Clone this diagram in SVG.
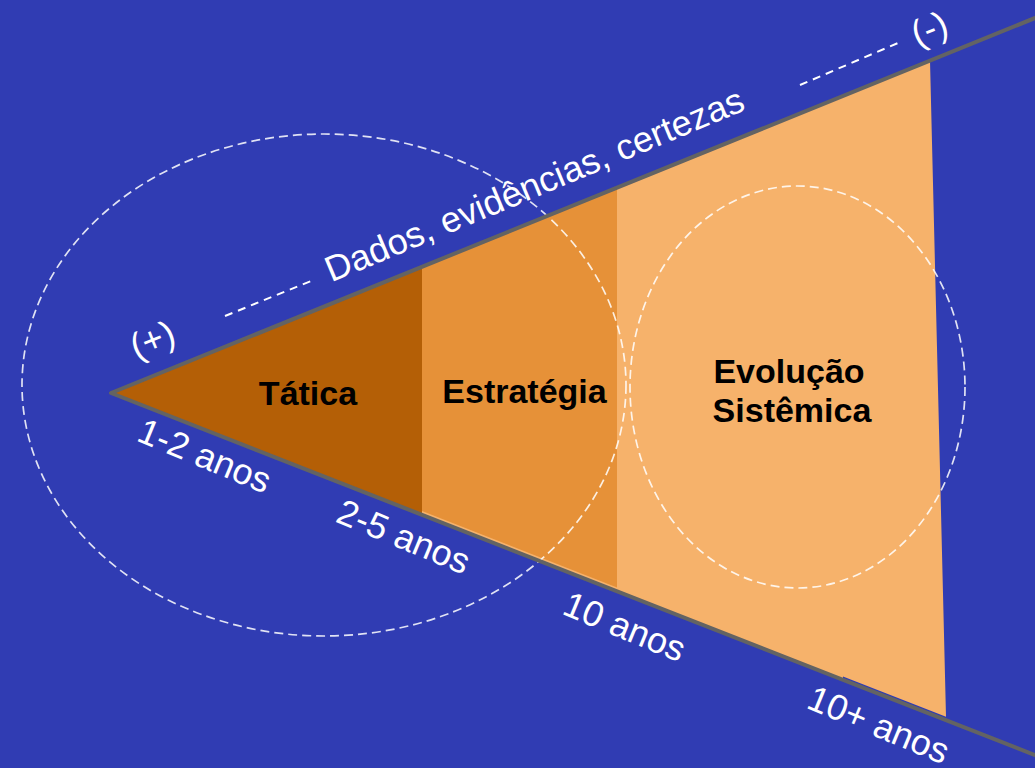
<svg xmlns="http://www.w3.org/2000/svg" width="1035" height="768" viewBox="0 0 1035 768">
  <style>
    .lbl { font-family: "Liberation Sans", Arial, sans-serif; font-size: 36px; fill: #ffffff; text-anchor: middle; }
    .sec { font-family: "Liberation Sans", Arial, sans-serif; font-size: 34px; font-weight: bold; fill: #000000; text-anchor: middle; }
    .dash { fill: none; stroke: #ffffff; stroke-opacity: 0.85; stroke-width: 1.7; stroke-dasharray: 9 5; }
    .guide { fill: none; stroke: #ffffff; stroke-width: 2; stroke-dasharray: 8 6; }
  </style>
  <rect x="0" y="0" width="1035" height="768" fill="#303CB3"/>

  <g id="evolucao">
    <polygon points="422,267 930,60.5 946,716.8 843,676.4 843,680.4 422,514.9" fill="#F6B26B"/>
  </g>
  <g id="estrategia">
    <polygon points="422,266.7 617,187.6 617,587.4 422,511" fill="#E69138"/>
  </g>
  <g id="tatica">
    <polygon points="111,393 422,266.7 422,514.9" fill="#B45F06"/>
  </g>

  <g id="circles">
    <ellipse cx="324" cy="385" rx="302" ry="251" class="dash"/>
    <ellipse cx="797.5" cy="387" rx="167.5" ry="201" class="dash"/>
  </g>

  <g id="connectors">
    <polyline points="1040,16 111,393 1040,757" fill="none" stroke="#636363" stroke-width="4" stroke-linejoin="round"/>
    <line x1="225" y1="316" x2="311" y2="281" class="guide"/>
    <line x1="800" y1="85" x2="898" y2="43" class="guide"/>
  </g>

  <g id="labels">
    <text class="lbl" x="539" y="196" transform="rotate(-22.6 539 196)">Dados, evidências, certezas</text>
    <text class="lbl" font-size="34" x="157" y="351" transform="rotate(-22 157 351)">(+)</text>
    <text class="lbl" font-size="34" x="934" y="40" transform="rotate(-22 934 40)">(-)</text>
    <text class="lbl" x="200" y="467" transform="rotate(22.5 200 467)">1-2 anos</text>
    <text class="lbl" x="399" y="548" transform="rotate(22.5 399 548)">2-5 anos</text>
    <text class="lbl" x="620" y="638" transform="rotate(22.5 620 638)">10 anos</text>
    <text class="lbl" x="874" y="736" transform="rotate(22.5 874 736)">10+ anos</text>
  </g>

  <g id="section-labels">
    <text class="sec" x="308" y="405">Tática</text>
    <text class="sec" x="524.5" y="403">Estratégia</text>
    <text class="sec" x="789" y="383">Evolução</text>
    <text class="sec" x="792" y="422">Sistêmica</text>
  </g>
</svg>
